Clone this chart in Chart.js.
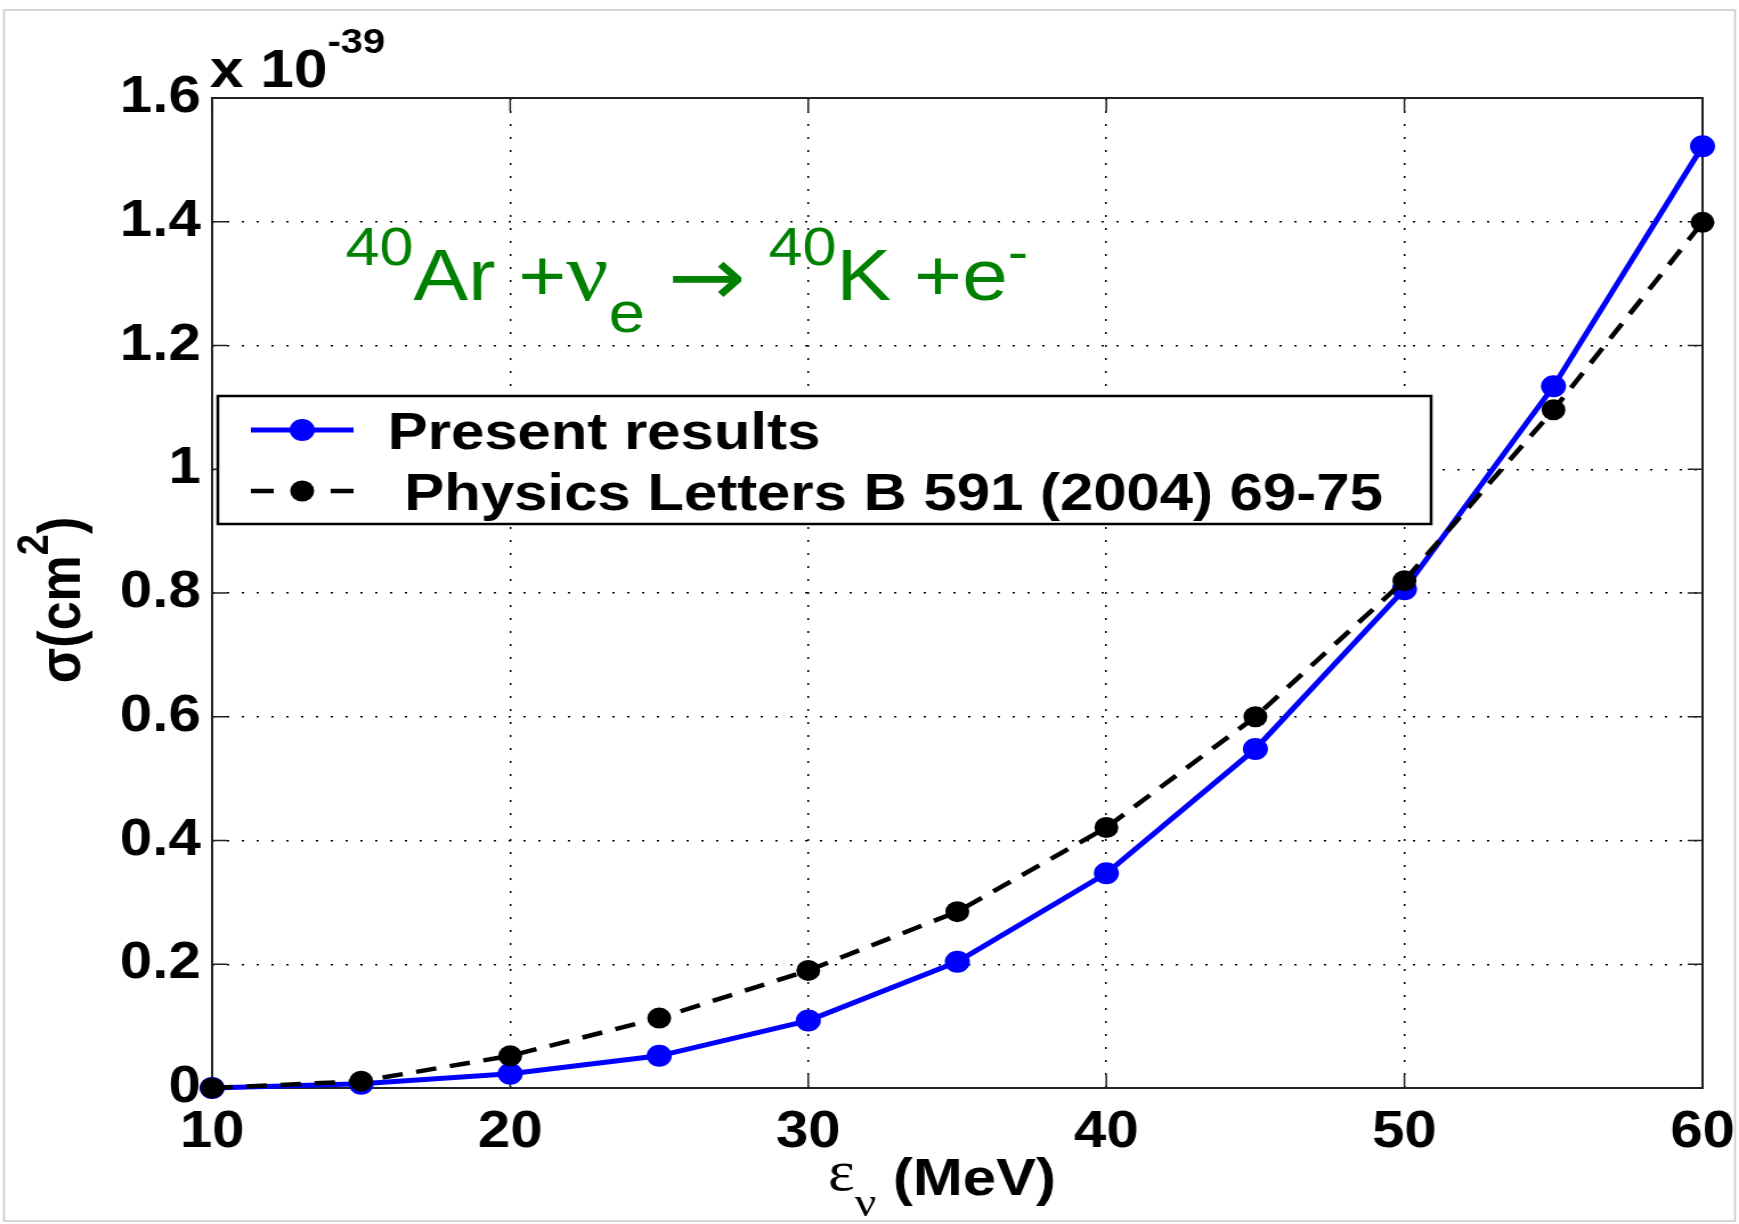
<!DOCTYPE html>
<html>
<head>
<meta charset="utf-8">
<script src="https://cdn.jsdelivr.net/npm/chart.js@4.4.1/dist/chart.umd.min.js"></script>
<style>
  html, body { margin: 0; padding: 0; background: #fff; }
  #sigmaChart { display: block; }
</style>
</head>
<body>
<!-- canvas is drawn narrower and stretched to the page width -->
<canvas id="sigmaChart" width="1525" height="1224" style="width:1739px;height:1224px"></canvas>
<script>
// neutrino energy (MeV)
const energias = [10, 15, 20, 25, 30, 35, 40, 45, 50, 55, 60];
// cross section in units of 1e-39 cm^2
const presentResults = [0, 0.007, 0.023, 0.052, 0.109, 0.204, 0.347, 0.548, 0.806, 1.134, 1.522];
const plb2004 = [0, 0.011, 0.052, 0.113, 0.190, 0.285, 0.421, 0.600, 0.820, 1.096, 1.399];

const xTicks = [10, 20, 30, 40, 50, 60];
const yTicks = [0, 0.2, 0.4, 0.6, 0.8, 1, 1.2, 1.4, 1.6];
const legendLabels = ['Present results', ' Physics Letters B 591 (2004) 69-75'];

const SANS = '"Liberation Sans", Arial, sans-serif';
const SERIF = '"Liberation Serif", "Times New Roman", serif';
const GREEN = '#008000';

// draws a run of text pieces with their own font and baseline shift
function drawRich(ctx, x, y, parts, color) {
  ctx.save();
  ctx.fillStyle = color || '#000';
  ctx.textAlign = 'left';
  ctx.textBaseline = 'alphabetic';
  let cx = x;
  parts.forEach(p => {
    ctx.font = p.font;
    ctx.fillText(p.t, cx, y + (p.dy || 0));
    cx += ctx.measureText(p.t).width;
  });
  ctx.restore();
  return cx;
}

function richWidth(ctx, parts) {
  let w = 0;
  ctx.save();
  parts.forEach(p => { ctx.font = p.font; w += ctx.measureText(p.t).width; });
  ctx.restore();
  return w;
}

const decoraciones = {
  id: 'decoraciones',
  beforeDraw(chart) {
    const ctx = chart.ctx;
    ctx.save();
    ctx.fillStyle = '#fff';
    ctx.fillRect(0, 0, chart.width, chart.height);
    ctx.restore();
  },
  beforeDatasetsDraw(chart) {
    const {ctx, chartArea: a, scales} = chart;
    ctx.save();
    // axes box
    ctx.strokeStyle = '#222';
    ctx.lineWidth = 2;
    ctx.strokeRect(a.left, a.top, a.right - a.left, a.bottom - a.top);
    // inward tick marks on all four sides
    const tl = 13;
    ctx.beginPath();
    yTicks.forEach(v => {
      const y = scales.y.getPixelForValue(v);
      ctx.moveTo(a.left, y); ctx.lineTo(a.left + tl, y);
      ctx.moveTo(a.right, y); ctx.lineTo(a.right - tl, y);
    });
    xTicks.forEach(v => {
      const x = scales.x.getPixelForValue(v);
      ctx.moveTo(x, a.bottom); ctx.lineTo(x, a.bottom - tl);
      ctx.moveTo(x, a.top); ctx.lineTo(x, a.top + tl);
    });
    ctx.lineWidth = 1.5;
    ctx.stroke();
    ctx.restore();
  },
  afterDatasetsDraw(chart) {
    const ctx = chart.ctx;
    // legend box
    const box = {x: 191, y: 396, w: 1064, h: 128};
    ctx.save();
    ctx.fillStyle = '#fff';
    ctx.fillRect(box.x, box.y, box.w, box.h);
    ctx.strokeStyle = '#000';
    ctx.lineWidth = 2.5;
    ctx.strokeRect(box.x, box.y, box.w, box.h);

    const rows = [430, 491];
    chart.data.datasets.forEach((ds, i) => {
      const y = rows[i];
      ctx.save();
      ctx.strokeStyle = ds.borderColor;
      ctx.lineWidth = ds.borderWidth;
      if (ds.borderDash) ctx.setLineDash([20, 50]);
      ctx.beginPath();
      ctx.moveTo(220, y);
      ctx.lineTo(310, y);
      ctx.stroke();
      ctx.restore();
      ctx.fillStyle = ds.backgroundColor;
      ctx.beginPath();
      ctx.arc(265, y, ds.pointRadius, 0, Math.PI * 2);
      ctx.fill();
      ctx.fillStyle = '#000';
      ctx.font = 'bold 52.5px ' + SANS;
      ctx.textBaseline = 'alphabetic';
      ctx.fillText(legendLabels[i], 340, y + 19);
    });
    ctx.restore();
  },
  afterDraw(chart) {
    const ctx = chart.ctx;

    // exponent above the y axis
    drawRich(ctx, 184, 87, [
      {t: 'x 10', font: 'bold 53px ' + SANS},
      {t: '-39', font: 'bold 35px ' + SANS, dy: -34}
    ]);

    // reaction label
    const sup = '53.5px ' + SANS, big = '72px ' + SANS;
    drawRich(ctx, 303, 300, [
      {t: '40', font: sup, dy: -35},
      {t: 'Ar', font: big},
      {t: ' +', font: big},
      {t: 'ν', font: '82px ' + SERIF},
      {t: 'e', font: '57px ' + SANS, dy: 32},
      {t: ' ', font: big},
      {t: '→', font: '82px "DejaVu Sans"', dy: 5},
      {t: ' ', font: big},
      {t: '40', font: sup, dy: -35},
      {t: 'K', font: big},
      {t: ' +e', font: big},
      {t: '-', font: sup, dy: -30}
    ], GREEN);

    // x axis title
    drawRich(ctx, 726, 1190, [
      {t: 'ε', font: '56px ' + SERIF},
      {t: 'ν', font: '42px ' + SERIF, dy: 26},
      {t: ' (MeV)', font: 'bold 52.5px ' + SANS, dy: 5}
    ]);

    // y axis title, rotated
    const yParts = [
      {t: 'σ(cm', font: 'bold 52px ' + SANS},
      {t: '2', font: 'bold 38px ' + SANS, dy: -28},
      {t: ')', font: 'bold 52px ' + SANS}
    ];
    const w = richWidth(ctx, yParts);
    ctx.save();
    ctx.translate(70, 600);
    ctx.rotate(-Math.PI / 2);
    drawRich(ctx, -w / 2, 0, yParts);
    ctx.restore();

    // light frame around the figure
    ctx.save();
    ctx.strokeStyle = '#c8c8c8';
    ctx.lineWidth = 1.5;
    ctx.strokeRect(3.5, 10, 1518, 1211);
    ctx.restore();
  }
};

const tickFont = {family: SANS, size: 51, weight: 'bold'};

const ctx = document.getElementById('sigmaChart').getContext('2d');
new Chart(ctx, {
  type: 'line',
  data: {
    datasets: [{
      label: legendLabels[0],
      data: energias.map((e, i) => ({x: e, y: presentResults[i]})),
      borderColor: '#0000ff',
      backgroundColor: '#0000ff',
      borderWidth: 5,
      pointRadius: 11,
      pointBorderWidth: 0,
      tension: 0,
      clip: false,
      order: 1
    }, {
      label: legendLabels[1],
      data: energias.map((e, i) => ({x: e, y: plb2004[i]})),
      borderColor: '#000',
      backgroundColor: '#000',
      borderWidth: 4.5,
      borderDash: [18, 12],
      pointRadius: 10.5,
      pointBorderWidth: 0,
      tension: 0,
      clip: false,
      order: 0
    }]
  },
  options: {
    responsive: false,
    devicePixelRatio: 1,
    animation: false,
    layout: { padding: {left: 0, right: 32, top: 98, bottom: 0} },
    plugins: {
      legend: { display: false },
      tooltip: { enabled: false }
    },
    scales: {
      x: {
        type: 'linear',
        min: 10,
        max: 60,
        afterBuildTicks: s => { s.ticks = xTicks.map(v => ({value: v})); },
        afterFit: s => { s.height = 136; s.paddingLeft = 0; s.paddingRight = 0; },
        grid: { color: '#000', lineWidth: 1.5, drawTicks: false },
        border: { display: false, dash: [2, 11] },
        ticks: { font: tickFont, color: '#000', padding: 14, maxRotation: 0, callback: v => String(v) }
      },
      y: {
        min: 0,
        max: 1.6,
        afterBuildTicks: s => { s.ticks = yTicks.map(v => ({value: v})); },
        afterFit: s => { s.width = 186; },
        grid: { color: '#000', lineWidth: 1.5, drawTicks: false },
        border: { display: false, dash: [2, 11] },
        ticks: { font: tickFont, color: '#000', padding: 10, callback: v => String(v) }
      }
    }
  },
  plugins: [decoraciones]
});
</script>
</body>
</html>
